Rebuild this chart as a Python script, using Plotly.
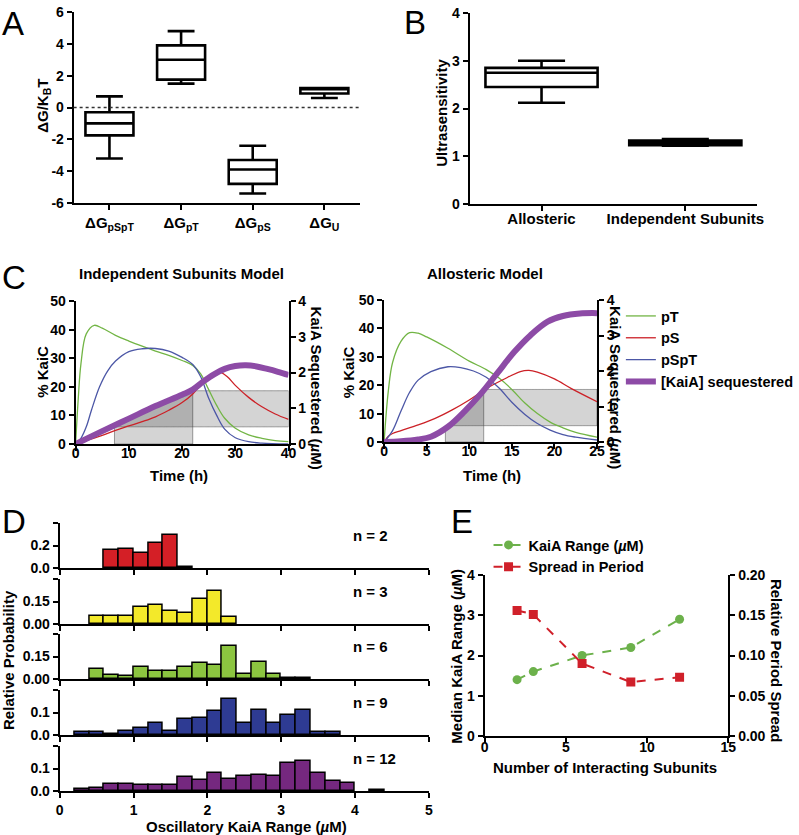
import numpy as np
import plotly.graph_objects as go

W, H = 799, 835
FONT = "Liberation Sans"

# ---------------- Panel A data ----------------
A_cats = ["pSpT", "pT", "pS", "U"]
A_labels = ["ΔG<sub>pSpT</sub>", "ΔG<sub>pT</sub>", "ΔG<sub>pS</sub>", "ΔG<sub>U</sub>"]
A_low = [-3.2, 1.5, -5.4, 0.6]
A_q1 = [-1.75, 1.75, -4.8, 0.88]
A_med = [-1.0, 3.0, -3.9, 1.2]
A_q3 = [-0.3, 3.9, -3.3, 1.22]
A_high = [0.7, 4.8, -2.4, 1.22]
A_yticks = [-6, -4, -2, 0, 2, 4, 6]

# ---------------- Panel B data ----------------
B_cats = ["Allosteric", "Independent Subunits"]
B_low = [2.12, 1.22]
B_q1 = [2.45, 1.23]
B_med = [2.75, 1.28]
B_q3 = [2.85, 1.33]
B_high = [3.0, 1.36]
B_yticks = [0, 1, 2, 3, 4]

# ---------------- Panel C data (Independent Subunits Model) ----------------
CI_t_pT = [0, 0.5, 1, 2, 3.5, 5, 7.5, 10, 12.5, 15, 17.5, 20, 22, 23.5, 25, 26.5, 28, 30, 32.5, 35, 37.5, 40]
CI_pT = [0, 16, 28, 38.5, 41.5, 40.5, 38, 36, 34.2, 32.5, 31, 29.2, 27.5, 24.5, 19, 13.5, 9, 5.5, 3.2, 2, 1.2, 0.8]
CI_t_pS = [0, 2.5, 5, 7.5, 10, 12.5, 15, 17.5, 20, 22, 24, 25.5, 27, 28.5, 30, 32.5, 35, 37.5, 40]
CI_pS = [0, 1.5, 3, 4.8, 6.3, 7.8, 9.5, 11.8, 14.5, 17.5, 22, 24.5, 25.2, 23.5, 20.5, 16.3, 13, 10.5, 8.6]
CI_t_pSpT = [0, 1, 2, 3, 4.5, 6, 7.5, 10, 12.5, 15, 17.5, 20, 22, 23.5, 25, 26.5, 28, 30, 32.5, 35, 40]
CI_pSpT = [0, 2, 6, 12, 20, 25.5, 29, 32.3, 33.3, 33.4, 32.5, 30.3, 27.8, 23.5, 16, 10, 5.2, 2.2, 0.8, 0.3, 0]
CI_t_K = [0, 5, 10, 15, 20, 22, 24, 26, 28, 30, 32, 34, 36, 38, 40]
CI_K = [0, 0.36, 0.71, 1.06, 1.38, 1.52, 1.75, 1.95, 2.1, 2.18, 2.2, 2.17, 2.1, 2.02, 1.93]
CI_shade_t = [7.3, 22.0]     # vertical strip (h)
CI_shade_k = [0.48, 1.49]    # horizontal band (uM)

# ---------------- Panel C data (Allosteric Model) ----------------
CA_t_pT = [0, 0.5, 1, 2, 3, 4, 5, 7.5, 10, 12, 13.5, 15, 16.5, 18, 19.5, 21, 22.5, 25]
CA_pT = [0, 18, 28, 35.5, 38.5, 38.3, 37, 33, 28.5, 25.5, 22.5, 18.5, 13.8, 10, 7, 5, 3.4, 1.7]
CA_t_pS = [0, 0.5, 1, 2, 4, 6, 8, 10, 12, 14, 16, 17, 18, 20, 22, 25]
CA_pS = [0, 2, 3, 4, 6, 8.3, 11.3, 14.8, 18.8, 22, 24.8, 25.2, 24.6, 22.2, 18.8, 14.2]
CA_t_pSpT = [0, 1, 2, 3, 4, 5.5, 7.5, 9, 10.5, 12, 13.5, 15, 16.5, 18, 19.5, 21, 22.5, 25]
CA_pSpT = [0, 4, 11, 17.5, 21.8, 24.8, 26.5, 26.2, 25, 22.8, 19, 14, 9.8, 6.5, 4.2, 2.6, 1.7, 0.7]
CA_t_K = [0, 2, 4, 5.5, 7.5, 9.4, 11.4, 13.3, 15.3, 17.2, 19.2, 21, 23, 25]
CA_K = [0, 0.02, 0.07, 0.15, 0.43, 0.85, 1.37, 1.94, 2.54, 3.01, 3.39, 3.55, 3.62, 3.63]
CA_shade_t = [7.2, 11.7]
CA_shade_k = [0.46, 1.48]

# ---------------- Panel D data (histograms, bin width 0.2) ----------------
D_bins = [0.3, 0.5, 0.7, 0.9, 1.1, 1.3, 1.5, 1.7, 1.9, 2.1, 2.3, 2.5, 2.7, 2.9, 3.1, 3.3, 3.5, 3.7, 3.9, 4.1, 4.3]
D_n2 = [None, None, 0.16, 0.17, 0.13, 0.22, 0.29, 0.005, None, None, None, None, None, None, None, None, None, None, None, None, None]
D_n3 = [None, 0.055, 0.055, 0.055, 0.115, 0.124, 0.086, 0.075, 0.17, 0.223, 0.049, None, None, None, None, None, None, None, None, None, None]
D_n6 = [None, 0.068, 0.029, 0.022, 0.077, 0.055, 0.055, 0.082, 0.108, 0.093, 0.218, 0.035, 0.113, 0.035, 0.009, 0.004, None, None, None, None, None]
D_n9 = [0.013, 0.013, 0.006, 0.02, 0.031, 0.053, 0.02, 0.07, 0.075, 0.107, 0.162, 0.053, 0.112, 0.053, 0.091, 0.11, 0.013, 0.013, None, None, None]
D_n12 = [0.009, 0.013, 0.032, 0.032, 0.028, 0.028, 0.028, 0.062, 0.049, 0.081, 0.054, 0.065, 0.069, 0.066, 0.126, 0.135, 0.079, 0.046, 0.034, None, 0.004]
D_labels = ["n = 2", "n = 3", "n = 6", "n = 9", "n = 12"]
D_ymax = [0.4, 0.3, 0.3, 0.2, 0.2]
D_ytickvals = [[0, 0.2, 0.4], [0, 0.15, 0.3], [0, 0.15, 0.3], [0, 0.1, 0.2], [0, 0.1, 0.2]]
D_yticktext = [["0.0", "0.2", ""], ["0.00", "0.15", ""], ["0.00", "0.15", ""], ["0.0", "0.1", ""], ["0.0", "0.1", ""]]
D_xticks = [0, 1, 2, 3, 4, 5]

# ---------------- Panel E data ----------------
E_n = [2, 3, 6, 9, 12]
E_kaia = [1.4, 1.6, 2.0, 2.2, 2.9]
E_spread = [0.156, 0.151, 0.09, 0.067, 0.073]

# ---------------- colours ----------------
C_GREEN, C_RED, C_BLUE, C_PURPLE = "#72b545", "#cc2127", "#4c57a6", "#8d4ba6"
D_COLORS = ["#d41f26", "#f3e92a", "#8cc540", "#2e3b93", "#75287f"]
E_GREEN, E_RED = "#6cb14b", "#d0202a"


def dx(a, b):
    return [a / W, b / W]


def dy(top, bottom):
    return [1 - bottom / H, 1 - top / H]


def tfont(size=14):
    return dict(family=FONT, size=size, color="black", weight="bold")


def axis(**kw):
    base = dict(showline=True, linecolor="black", linewidth=2, ticks="outside", ticklen=5,
                tickwidth=2, tickcolor="black", showgrid=False, zeroline=False,
                tickfont=tfont(14), automargin=False, fixedrange=True)
    base.update(kw)
    return base


fig = go.Figure()
layout = {}
annotations = []
shapes = []


def label(text, px, py, angle=0, size=15, xanchor="center"):
    annotations.append(dict(text=text, x=px / W, y=1 - py / H, textangle=angle,
                            font=tfont(size), xanchor=xanchor))


# ---------------- Panel A ----------------
fig.add_trace(go.Box(x=A_cats, q1=A_q1, median=A_med, q3=A_q3, lowerfence=A_low, upperfence=A_high,
                     xaxis="x", yaxis="y", width=0.67, whiskerwidth=0.56, boxpoints=False,
                     line=dict(color="black", width=2.6), fillcolor="white", showlegend=False))
layout["xaxis"] = axis(domain=dx(74, 362), anchor="y", type="category", range=[-0.5, 3.5],
                       tickvals=A_cats, ticktext=A_labels, tickfont=tfont(15))
layout["yaxis"] = axis(domain=dy(12, 203), anchor="x", range=[-6, 6], tickvals=A_yticks,
                       ticktext=[str(v) for v in A_yticks])
shapes.append(dict(type="line", xref="x domain", x0=0, x1=1, yref="y", y0=0, y1=0,
                   line=dict(color="#333", width=1.3, dash="dot")))
label("ΔG/K<sub>B</sub>T", 43, 106, angle=-90)

# ---------------- Panel B ----------------
fig.add_trace(go.Box(x=B_cats, q1=B_q1, median=B_med, q3=B_q3, lowerfence=B_low, upperfence=B_high,
                     xaxis="x2", yaxis="y2", width=0.78, whiskerwidth=0.42, boxpoints=False,
                     line=dict(color="black", width=2.6), fillcolor="white", showlegend=False))
layout["xaxis2"] = axis(domain=dx(472, 761), anchor="y2", type="category", range=[-0.5, 1.5],
                        ticklabelstandoff=-5, tickfont=tfont(15))
layout["yaxis2"] = axis(domain=dy(13, 204), anchor="x2", range=[0, 4], tickvals=B_yticks)
label("Ultrasensitivity", 443, 113, angle=-90)


# ---------------- Panel C ----------------
def shade_paths(tK, K, vt, kb, tmax, xref, yref):
    out = []
    ts = np.linspace(vt[0], vt[1], 80)
    up = np.interp(ts, tK, K)
    pts = [f"{vt[0]},0"] + [f"{a:.4f},{b:.4f}" for a, b in zip(ts, up)] + [f"{vt[1]},0"]
    out.append("M " + " L ".join(pts) + " Z")
    ts2 = np.linspace(vt[0], tmax, 200)
    up2 = np.clip(np.interp(ts2, tK, K), kb[0], kb[1])
    pts2 = [f"{a:.4f},{b:.4f}" for a, b in zip(ts2, up2)] + \
           [f"{a:.4f},{kb[0]}" for a in ts2[::-1]]
    out.append("M " + " L ".join(pts2) + " Z")
    return [dict(type="path", path=p, xref=xref, yref=yref, layer="below",
                 fillcolor="rgba(0,0,0,0.17)", line=dict(color="rgba(80,80,80,0.55)", width=1))
            for p in out]


panels_C = [
    ("x3", "y3", "y4", CI_t_pT, CI_pT, CI_t_pS, CI_pS, CI_t_pSpT, CI_pSpT, CI_t_K, CI_K, CI_shade_t, CI_shade_k, 40, True),
    ("x4", "y5", "y6", CA_t_pT, CA_pT, CA_t_pS, CA_pS, CA_t_pSpT, CA_pSpT, CA_t_K, CA_K, CA_shade_t, CA_shade_k, 25, False),
]
for (xa, ya, yb, tpT, pT, tpS, pS, tpSpT, pSpT, tK, K, vt, kb, tmax, first) in panels_C:
    fig.add_trace(go.Scatter(x=tpT, y=pT, mode="lines", line=dict(color=C_GREEN, width=1.3, shape="spline"),
                             name="pT", xaxis=xa, yaxis=ya, showlegend=not first, legend="legend"))
    fig.add_trace(go.Scatter(x=tpS, y=pS, mode="lines", line=dict(color=C_RED, width=1.3, shape="spline"),
                             name="pS", xaxis=xa, yaxis=ya, showlegend=not first, legend="legend"))
    fig.add_trace(go.Scatter(x=tpSpT, y=pSpT, mode="lines", line=dict(color=C_BLUE, width=1.3, shape="spline"),
                             name="pSpT", xaxis=xa, yaxis=ya, showlegend=not first, legend="legend"))
    fig.add_trace(go.Scatter(x=tK, y=K, mode="lines", line=dict(color=C_PURPLE, width=6, shape="spline"),
                             name="[KaiA] sequestered", xaxis=xa, yaxis=yb, showlegend=not first, legend="legend"))
    shapes.extend(shade_paths(tK, K, vt, kb, tmax, xa, yb))

layout["xaxis3"] = axis(domain=dx(76, 290), anchor="y3", range=[0, 40], tickvals=[0, 10, 20, 30, 40],
                        ticklabelstandoff=-10)
layout["yaxis3"] = axis(domain=dy(301, 444), anchor="x3", range=[0, 50], tickvals=[0, 10, 20, 30, 40, 50])
layout["yaxis4"] = axis(overlaying="y3", side="right", anchor="x3", range=[0, 4], tickvals=[0, 1, 2, 3, 4])
layout["xaxis4"] = axis(domain=dx(386, 600), anchor="y5", range=[0, 25], tickvals=[0, 5, 10, 15, 20, 25],
                        ticklabelstandoff=-10)
layout["yaxis5"] = axis(domain=dy(300, 442), anchor="x4", range=[0, 50], tickvals=[0, 10, 20, 30, 40, 50])
layout["yaxis6"] = axis(overlaying="y5", side="right", anchor="x4", range=[0, 4], tickvals=[0, 1, 2, 3, 4])

label("Independent Subunits Model", 182, 273)
label("Allosteric Model", 487, 273)
label("% KaiC", 42, 372, angle=-90)
label("% KaiC", 350, 372, angle=-90)
label("Time (h)", 180, 475)
label("Time (h)", 494, 475)
label("KaiA Sequestered (<i>µ</i>M)", 319, 388, angle=90)
label("KaiA Sequestered (<i>µ</i>M)", 619, 388, angle=90)

# ---------------- Panel D ----------------
D_series = [D_n2, D_n3, D_n6, D_n9, D_n12]
D_rows = [(523, 568), (579, 624), (634, 679), (690, 735), (746, 791)]
for i, (vals, col, (top, bot)) in enumerate(zip(D_series, D_COLORS, D_rows)):
    xa = f"x{5 + i}"
    ya = f"y{7 + i}"
    fig.add_trace(go.Bar(x=D_bins, y=vals, width=0.2, marker=dict(color=col, line=dict(color="black", width=1.5)),
                         xaxis=xa, yaxis=ya, showlegend=False))
    last = i == len(D_series) - 1
    layout[f"xaxis{5 + i}"] = axis(domain=dx(60, 431), anchor=ya, range=[0, 5], tickvals=D_xticks,
                                   showticklabels=last)
    layout[f"yaxis{7 + i}"] = axis(domain=dy(top, bot), anchor=xa, range=[0, D_ymax[i]],
                                   tickvals=D_ytickvals[i], ticktext=D_yticktext[i])
    label(D_labels[i], 353, top + 12, xanchor="left")
fig.update_layout(bargap=0)
label("Relative Probability", 8, 660, angle=-90)
label("Oscillatory KaiA Range (<i>µ</i>M)", 248, 826)

# ---------------- Panel E ----------------
fig.add_trace(go.Scatter(x=E_n, y=E_kaia, mode="lines+markers", name="KaiA Range (<i>µ</i>M)",
                         line=dict(color=E_GREEN, width=2, dash="dash"),
                         marker=dict(symbol="circle", size=9, color=E_GREEN),
                         xaxis="x10", yaxis="y12", legend="legend2"))
fig.add_trace(go.Scatter(x=E_n, y=E_spread, mode="lines+markers", name="Spread in Period",
                         line=dict(color=E_RED, width=2, dash="dash"),
                         marker=dict(symbol="square", size=9, color=E_RED),
                         xaxis="x10", yaxis="y13", legend="legend2"))
layout["xaxis10"] = axis(domain=dx(487, 732), anchor="y12", range=[0, 15], tickvals=[0, 5, 10, 15],
                         ticklabelstandoff=-8)
layout["yaxis12"] = axis(domain=dy(575, 736), anchor="x10", range=[0, 4], tickvals=[0, 1, 2, 3, 4])
layout["yaxis13"] = axis(overlaying="y12", side="right", anchor="x10", range=[0, 0.2],
                         tickvals=[0, 0.05, 0.1, 0.15, 0.2], ticktext=["0.00", "0.05", "0.10", "0.15", "0.20"])
label("Median KaiA Range (<i>µ</i>M)", 458, 656, angle=-90)
label("Number of Interacting Subunits", 608, 767)
label("Relative Period Spread", 781, 660, angle=90)

# ---------------- panel letters ----------------
for letter, px, py in [("A", 0, 24), ("B", 404, 22), ("C", 0, 277), ("D", 0, 521), ("E", 451, 521)]:
    annotations.append(dict(text=letter, x=px / W, y=1 - py / H, xanchor="left",
                            font=dict(family=FONT, size=33, color="black")))

for a in annotations:
    a.setdefault("xref", "paper")
    a.setdefault("yref", "paper")
    a.setdefault("showarrow", False)
    a.setdefault("xanchor", "center")
    a.setdefault("yanchor", "middle")

layout["legend"] = dict(x=624 / W, y=1 - 300 / H, xanchor="left", yanchor="top", font=tfont(14.5),
                        bgcolor="rgba(0,0,0,0)", itemwidth=30, tracegroupgap=0)
layout["legend2"] = dict(x=491 / W, y=1 - 529 / H, xanchor="left", yanchor="top", font=tfont(14.5),
                         bgcolor="rgba(0,0,0,0)", itemwidth=30)

fig.update_layout(**layout)
fig.update_layout(width=W, height=H, margin=dict(l=0, r=0, t=0, b=0), paper_bgcolor="white",
                  plot_bgcolor="rgba(0,0,0,0)", annotations=annotations, shapes=shapes,
                  font=dict(family=FONT, color="black"))

fig.write_html("out.html", config={"displayModeBar": False},
               post_script="document.body.style.margin='0px';")
